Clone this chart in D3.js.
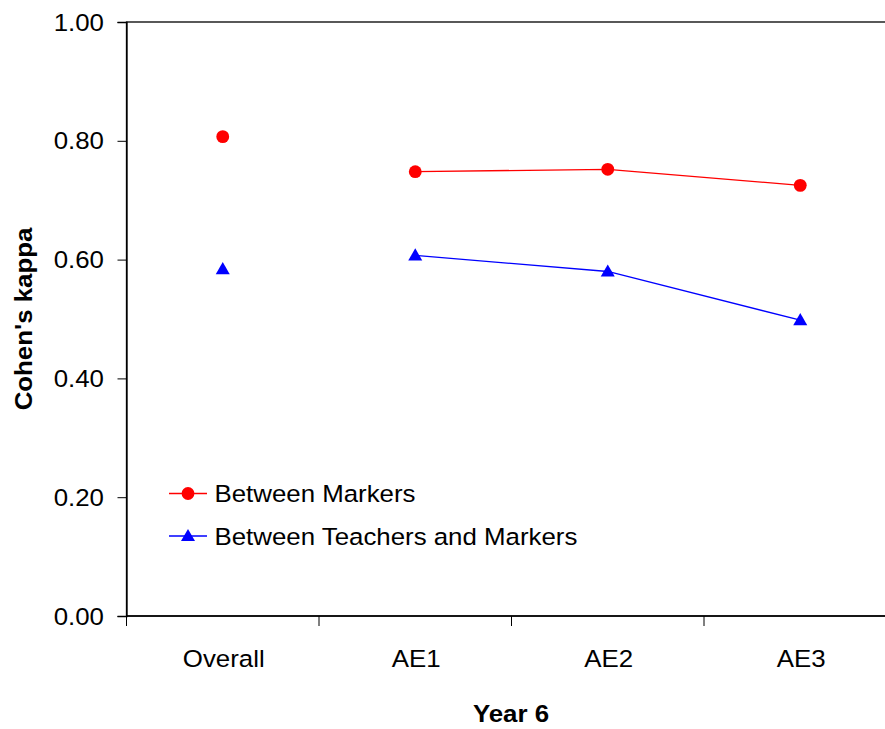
<!DOCTYPE html>
<html>
<head>
<meta charset="utf-8">
<script src="https://cdn.jsdelivr.net/npm/d3@7"></script>
<style>
  html, body { margin: 0; padding: 0; background: #fff; }
  svg { display: block; font-family: "Liberation Sans", Arial, sans-serif; }
</style>
</head>
<body>
<svg id="chart" width="885" height="729"></svg>
<script>
const categories = ["Overall", "AE1", "AE2", "AE3"];
const betweenMarkers = [0.807, 0.748, 0.752, 0.725];
const betweenTeachersMarkers = [0.584, 0.607, 0.580, 0.498];
const yTicks = [0, 0.2, 0.4, 0.6, 0.8, 1.0];
const seriesNames = ["Between Markers", "Between Teachers and Markers"];
const seriesColors = ["#ff0000", "#0000ff"];

(function () {
const svg = d3.select("#chart");
const pLeft = 126.5, pRight = 896.5, pTop = 22, pBottom = 616;
const FS = 23.5, SX = 1.1;

const x = d3.scaleBand().domain(categories).range([pLeft, pRight]).padding(0);
const y = d3.scaleLinear().domain([0, 1]).range([pBottom, pTop]);

function label(parent, tx, ty, txt, anchor, opts) {
  opts = opts || {};
  const t = parent.append("text")
    .attr("transform", `translate(${tx},${ty})${opts.rotate ? " rotate(" + opts.rotate + ")" : ""} scale(${SX},1)`)
    .attr("text-anchor", anchor).attr("font-size", FS).attr("fill", "#000")
    .text(txt);
  if (opts.bold) t.attr("font-weight", "bold");
  return t;
}

// frame
svg.append("rect").attr("x", pLeft).attr("y", pTop)
  .attr("width", pRight - pLeft).attr("height", pBottom - pTop)
  .attr("fill", "none").attr("stroke", "#000").attr("stroke-width", 1.3);

// y axis
const yAxis = svg.append("g").attr("transform", `translate(${pLeft},0)`)
  .call(d3.axisLeft(y).tickValues(yTicks).tickFormat("").tickSize(9));
yAxis.select(".domain").attr("stroke", "#000").attr("stroke-width", 1.3);
yAxis.selectAll(".tick line").attr("stroke", "#000").attr("stroke-width", 1);
yAxis.selectAll(".tick text").remove();
const fmt = d3.format(".2f");
yTicks.forEach(v => label(svg, 104, y(v) + 8.5, fmt(v), "end"));

// x axis: ticks at band boundaries
const xAxis = svg.append("g").attr("transform", `translate(0,${pBottom})`);
xAxis.append("line").attr("x1", pLeft).attr("x2", pRight).attr("y1", 0).attr("y2", 0)
  .attr("stroke", "#000").attr("stroke-width", 1.3);
const bounds = categories.map(c => x(c)).concat([x(categories[categories.length - 1]) + x.bandwidth()]);
xAxis.selectAll("line.tk").data(bounds).enter().append("line").attr("class", "tk")
  .attr("x1", d => d).attr("x2", d => d).attr("y1", 0).attr("y2", 10)
  .attr("stroke", "#000").attr("stroke-width", 1);
categories.forEach(c => label(svg, x(c) + x.bandwidth() / 2 + 1, 666.5, c, "middle"));

// axis titles
label(svg, 511, 721.5, "Year 6", "middle", { bold: true });
label(svg, 32, (pTop + pBottom) / 2, "Cohen's kappa", "middle", { bold: true, rotate: -90 });

const cx = d => x(d) + x.bandwidth() / 2;
const series = [betweenMarkers, betweenTeachersMarkers];
const symbols = [d3.symbol().type(d3.symbolCircle).size(130), d3.symbol().type(d3.symbolTriangle).size(85)];

series.forEach((vals, i) => {
  const pts = categories.map((c, j) => ({ c, v: vals[j], j }));
  // Overall not connected to AE points
  const line = d3.line().x(d => cx(d.c)).y(d => y(d.v));
  svg.append("path").datum(pts.slice(1)).attr("d", line)
    .attr("fill", "none").attr("stroke", seriesColors[i]).attr("stroke-width", 1.3);
  svg.selectAll(null).data(pts).enter().append("path")
    .attr("d", symbols[i])
    .attr("transform", d => `translate(${cx(d.c)},${y(d.v) + (i === 1 ? 1 : 0)})`)
    .attr("fill", seriesColors[i]);
});

// legend
const legY = [493.5, 536];
seriesNames.forEach((name, i) => {
  const g = svg.append("g").attr("transform", `translate(0,${legY[i]})`);
  g.append("line").attr("x1", 169).attr("x2", 207).attr("y1", 0).attr("y2", 0)
    .attr("stroke", seriesColors[i]).attr("stroke-width", 1.3);
  g.append("path").attr("d", symbols[i]).attr("transform", `translate(188,${i === 1 ? 1 : 0})`)
    .attr("fill", seriesColors[i]);
  label(g, 214.5, 8.5, name, "start");
});
})();
</script>
</body>
</html>
